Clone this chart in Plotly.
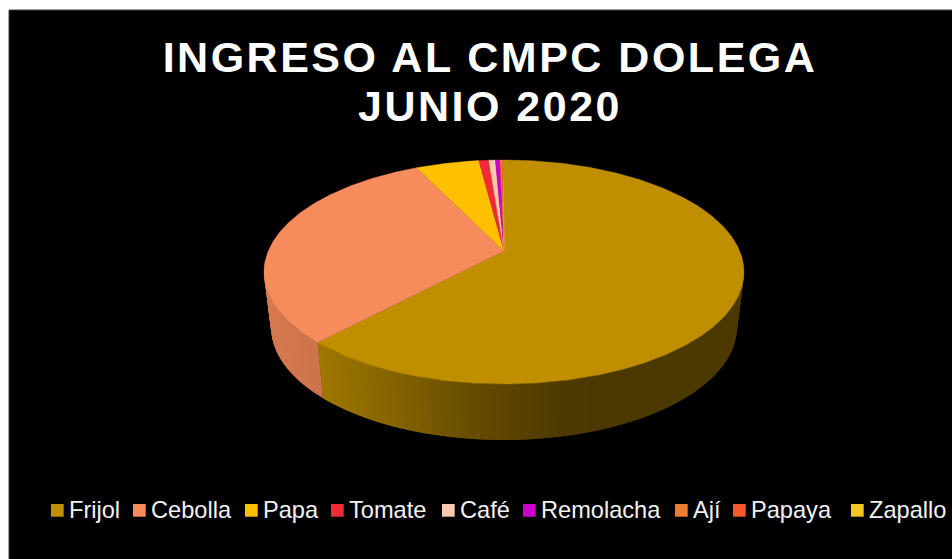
import numpy as np
import plotly.graph_objects as go

# Data (share of total, %)
categories = ["Frijol", "Cebolla", "Papa", "Tomate", "Café", "Remolacha", "Ají", "Papaya", "Zapallo"]
values = [61.9, 30.9, 5.1, 0.8, 0.53, 0.37, 0.16, 0.1, 0.06]
colors = ["#BF8F00", "#F68B5C", "#FFC000", "#F22A38", "#F8CBAD", "#CC00CC", "#ED7D31", "#F55A2B", "#F5C722"]
title_text = "INGRESO AL CMPC DOLEGA<br>JUNIO 2020"

# Perspective geometry of the drawn disc (in canvas pixel units of the axes)
W, H = 952, 559
LEFT, TOP = 9, 10
TOP_CX, TOP_CY, TOP_RX, TOP_RY = 504, 272, 240, 112
BOT_CX, BOT_CY, BOT_RX, BOT_RY = 504, 327, 233, 113
APEX_SHIFT = 21 / 112  # the pie centre sits above the ellipse centre
SHADE_X = [265, 320, 400, 480, 560, 600, 745]
SHADE_F = [0.87, 0.83, 0.68, 0.52, 0.41, 0.40, 0.40]

# Hand-placed legend layout (Excel style spacing)
LEG_SWATCH_X = [51, 133, 245, 331, 442, 523, 675, 733, 851]
LEG_Y0, LEG_Y1 = 504, 516.7
LEG_TEXT_DX = 17.0
LEG_TEXT_Y = 510


def unit_rim(theta):
    """Rim point (unit circle) of a clockwise-from-top angle, through the perspective map."""
    a = APEX_SHIFT
    s, c = np.sin(theta), np.cos(theta)
    d = 1 + a * c
    return s * np.sqrt(1 - a * a) / d, (c + a) / d


def shade(hex_color, factor):
    r, g, b = (int(hex_color[i:i + 2], 16) for i in (1, 3, 5))
    return f"rgb({r * factor:.0f},{g * factor:.0f},{b * factor:.0f})"


fractions = np.array(values) / np.sum(values)
edges = np.concatenate([[0], np.cumsum(fractions)]) * 2 * np.pi
apex_x, apex_y = TOP_CX, TOP_CY - APEX_SHIFT * TOP_RY

fig = go.Figure()

# Side wall first, as thin shaded strips that overlap the next one so no seams show
for i in range(len(categories)):
    n = max(2, int(np.degrees(edges[i + 1] - edges[i]) / 2) + 1)
    th = np.linspace(edges[i], edges[i + 1], n)
    X, Y = unit_rim(th)
    for j in range(n - 1):
        if Y[j] > 0.03 and Y[j + 1] > 0.03:
            continue
        k = min(j + 3, n)
        tx = TOP_CX + TOP_RX * X[j:k]
        ty = TOP_CY - TOP_RY * Y[j:k]
        bx = BOT_CX + BOT_RX * X[j:k]
        by = BOT_CY - BOT_RY * Y[j:k]
        col = shade(colors[i], float(np.interp(tx[:2].mean(), SHADE_X, SHADE_F)))
        fig.add_trace(go.Scatter(
            x=np.concatenate([tx, bx[::-1], tx[:1]]),
            y=np.concatenate([ty, by[::-1], ty[:1]]),
            mode="lines", fill="toself", fillcolor=col,
            line=dict(color=col, width=0),
            hoverinfo="skip", showlegend=False,
        ))

# Top face
for i, name in enumerate(categories):
    n = max(3, int(np.degrees(edges[i + 1] - edges[i])) * 2 + 2)
    th = np.linspace(edges[i], edges[i + 1], n)
    X, Y = unit_rim(th)
    px = TOP_CX + TOP_RX * X
    py = TOP_CY - TOP_RY * Y
    fig.add_trace(go.Scatter(
        x=np.concatenate([[apex_x], px, [apex_x]]),
        y=np.concatenate([[apex_y], py, [apex_y]]),
        mode="lines", fill="toself", fillcolor=colors[i],
        line=dict(color=colors[i], width=0.4),
        name=name, text=f"{name}: {values[i]}%", hoverinfo="text", showlegend=False,
    ))

shapes = [dict(type="rect", xref="x", yref="y", x0=LEFT, x1=W + 5, y0=TOP, y1=H + 5,
               fillcolor="#000000", line=dict(color="#404040", width=1), layer="below")]
annotations = []
for name, col, sx in zip(categories, colors, LEG_SWATCH_X):
    shapes.append(dict(type="rect", xref="x", yref="y", x0=sx, x1=sx + 12.7, y0=LEG_Y0, y1=LEG_Y1,
                       fillcolor=col, line=dict(width=0)))
    annotations.append(dict(text=name, x=sx + LEG_TEXT_DX, y=LEG_TEXT_Y, xref="x", yref="y",
                            xanchor="left", yanchor="middle", showarrow=False, borderpad=0,
                            font=dict(family="Liberation Sans, Arial", size=23.6, color="#F2F2F2")))

fig.update_layout(
    width=W, height=H, autosize=False,
    margin=dict(l=0, r=0, t=0, b=0, pad=0),
    paper_bgcolor="#FFFFFF", plot_bgcolor="#FFFFFF",
    showlegend=False,
    title=dict(text=title_text, x=490 / W, xanchor="center", xref="paper",
               y=1 - 72.3 / H, yanchor="bottom", yref="paper", pad=dict(t=0, b=0),
               font=dict(family="Liberation Sans, Arial", size=43, color="#FFFFFF", weight="bold")),
    xaxis=dict(range=[0, W], visible=False, fixedrange=True),
    yaxis=dict(range=[H, 0], visible=False, fixedrange=True),
    shapes=shapes, annotations=annotations,
)

post = """
document.body.style.margin = '0';
document.documentElement.style.overflow = 'hidden';
var t = document.querySelector('.gtitle');
if (t) {
  var baselines = [72.3, 121];
  t.style.letterSpacing = '2.5px';
  t.removeAttribute('transform');
  t.querySelectorAll('tspan.line').forEach(function (s, i) {
    s.setAttribute('y', baselines[i]);
    s.setAttribute('dy', '0');
  });
}
"""
fig.write_html("out.html", post_script=post, config=dict(displayModeBar=False))
